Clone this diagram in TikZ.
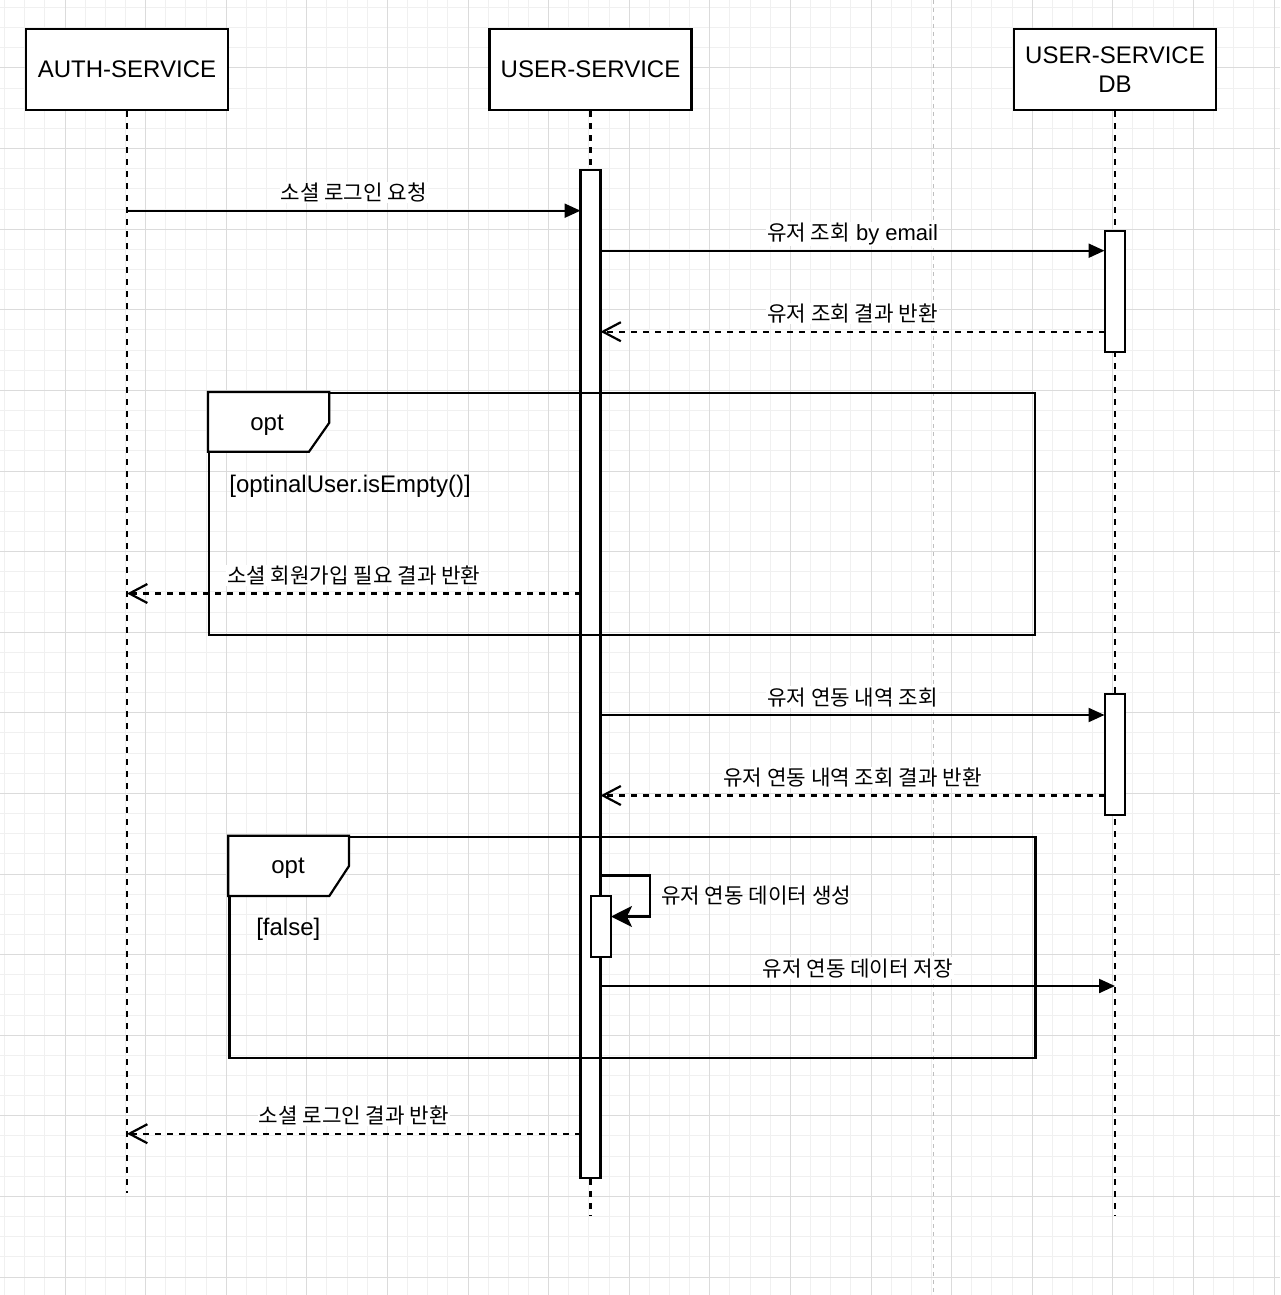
\documentclass[tikz,border=0pt]{standalone}
\usepackage{fontspec}
\setmainfont{Liberation Sans}
\newfontfamily\kr[Scale=0.965]{Noto Sans CJK KR}
\usetikzlibrary{arrows.meta}
\tikzset{
  minorgrid/.style={draw=black!6, line width=1pt},
  majorgrid/.style={draw=black!14, line width=1pt},
  pagebreak/.style={draw=black!25, line width=1.5pt, dash pattern=on 4pt off 4pt},
  head/.style={draw, fill=white, minimum width=202pt, minimum height=81pt, inner sep=0pt, font=\fontsize{24}{29}\selectfont, align=center},
  life/.style={dash pattern=on 6pt off 6pt},
  actbar/.style={draw, fill=white, minimum width=20pt, inner sep=0pt},
  sync/.style={-{Triangle[length=16pt,width=14pt]}},
  reply/.style={dash pattern=on 6pt off 6pt, -{Straight Barb[length=18pt,width=19pt]}},
  selfmsg/.style={-{Stealth[length=21pt,width=21pt,inset=5pt]}},
  lbl/.style={fill=white, inner sep=1pt, font=\fontsize{22}{26}\selectfont, anchor=base, yshift=10pt},
  freelbl/.style={inner sep=0pt, font=\fontsize{22}{26}\selectfont, anchor=base west},
  framebox/.style={draw, anchor=north west, inner sep=0pt},
  tabshape/.style={draw, fill=white},
  bigtext/.style={inner sep=0pt, font=\fontsize{24}{29}\selectfont},
}
\begin{document}
\begin{tikzpicture}[x=1pt,y=-1pt,line width=2.2pt]
\useasboundingbox (0,0) rectangle (1280,1295);
\fill[white] (0,0) rectangle (1280,1295);
% grid
\foreach \i in {0,...,63} \draw[minorgrid] ({4.55+20.15*\i},0) -- ++(0,1295);
\foreach \i in {0,...,64} \draw[minorgrid] (0,{7.55+20.15*\i}) -- ++(1280,0);
\foreach \i in {0,...,15} \draw[majorgrid] ({65+80.6*\i},0) -- ++(0,1295);
\foreach \i in {0,...,15} \draw[majorgrid] (0,{68+80.6*\i}) -- ++(1280,0);
\draw[pagebreak] (933.5,0) -- (933.5,1295);

% headers
\node[head] (auth) at (127,69.5) {AUTH-SERVICE};
\node[head] (user) at (590.5,69.5) {USER-SERVICE};
\node[head] (db) at (1115,69.5) {USER-SERVICE\\DB};

% lifelines
\coordinate (authEnd) at (127,1193);
\coordinate (userEnd) at (590.5,1216);
\coordinate (dbEnd) at (1115,1216);
\draw[life] (auth.south) -- (authEnd);
\draw[life] (user.south) -- (userEnd);
\draw[life] (db.south) -- (dbEnd);

% activation bars
\node[actbar, minimum height=1008pt] (ua) at (590.5,674) {};
\node[actbar, minimum height=121pt] (da1) at (1114.7,291.3) {};
\node[actbar, minimum height=121pt] (da2) at (1114.7,754.5) {};
\node[actbar, minimum height=61pt] (sa) at (601,926.5) {};

% frames
\node[framebox, minimum width=826pt, minimum height=241.5pt] (f1) at (208,392) {};
\draw[tabshape] (f1.north west) -- (329.3,392) -- (329.3,422.7) -- (309,451.7) -- (208,451.7) -- cycle;
\node[bigtext, anchor=base] (f1op) at (267,430) {opt};
\node[bigtext, anchor=base west] (f1g) at (228.3,492) {[optinalUser.isEmpty()]};

\node[framebox, minimum width=806pt, minimum height=221.5pt] (f2) at (228.3,835.7) {};
\draw[tabshape] (f2.north west) -- (349,835.7) -- (349,866) -- (329.3,896) -- (228.3,896) -- cycle;
\node[bigtext, anchor=base] (f2op) at (288,873) {opt};
\node[bigtext, anchor=base] (f2g) at (288.3,935) {[false]};

% messages
\coordinate (m1a) at (127,210.7);
\coordinate (m1b) at (580.5,210.7);
\draw[sync] (m1a) -- node[lbl] {\kr 소셜 로그인 요청} (m1b);

\coordinate (m2a) at (600.5,250.7);
\coordinate (m2b) at (1104.5,250.7);
\draw[sync] (m2a) -- node[lbl] {{\kr 유저 조회} by email} (m2b);

\coordinate (m3a) at (1104.5,331.7);
\coordinate (m3b) at (600.5,331.7);
\draw[reply] (m3a) -- node[lbl] {\kr 유저 조회 결과 반환} (m3b);

\coordinate (m5a) at (580.5,593.5);
\coordinate (m5b) at (127,593.5);
\draw[reply] (m5a) -- node[lbl] {\kr 소셜 회원가입 필요 결과 반환} (m5b);

\coordinate (m6a) at (600.5,715);
\coordinate (m6b) at (1104.5,715);
\draw[sync] (m6a) -- node[lbl] {\kr 유저 연동 내역 조회} (m6b);

\coordinate (m7a) at (1104.5,795.5);
\coordinate (m7b) at (600.5,795.5);
\draw[reply] (m7a) -- node[lbl] {\kr 유저 연동 내역 조회 결과 반환} (m7b);

% self call
\coordinate (s1) at (600.5,875.5);
\coordinate (s2) at (611,916.5);
\draw[selfmsg] (s1) -- (650.3,875.5) -- (650.3,916.5) -- (s2);
\node[freelbl] (slbl) at (660,903) {\kr 유저 연동 데이터 생성};

\coordinate (m10a) at (600.5,986);
\coordinate (m10b) at (1115,986);
\draw[sync] (m10a) -- node[lbl] {\kr 유저 연동 데이터 저장} (m10b);

\coordinate (m11a) at (580.5,1133.7);
\coordinate (m11b) at (127,1133.7);
\draw[reply] (m11a) -- node[lbl] {\kr 소셜 로그인 결과 반환} (m11b);
\end{tikzpicture}
\end{document}
